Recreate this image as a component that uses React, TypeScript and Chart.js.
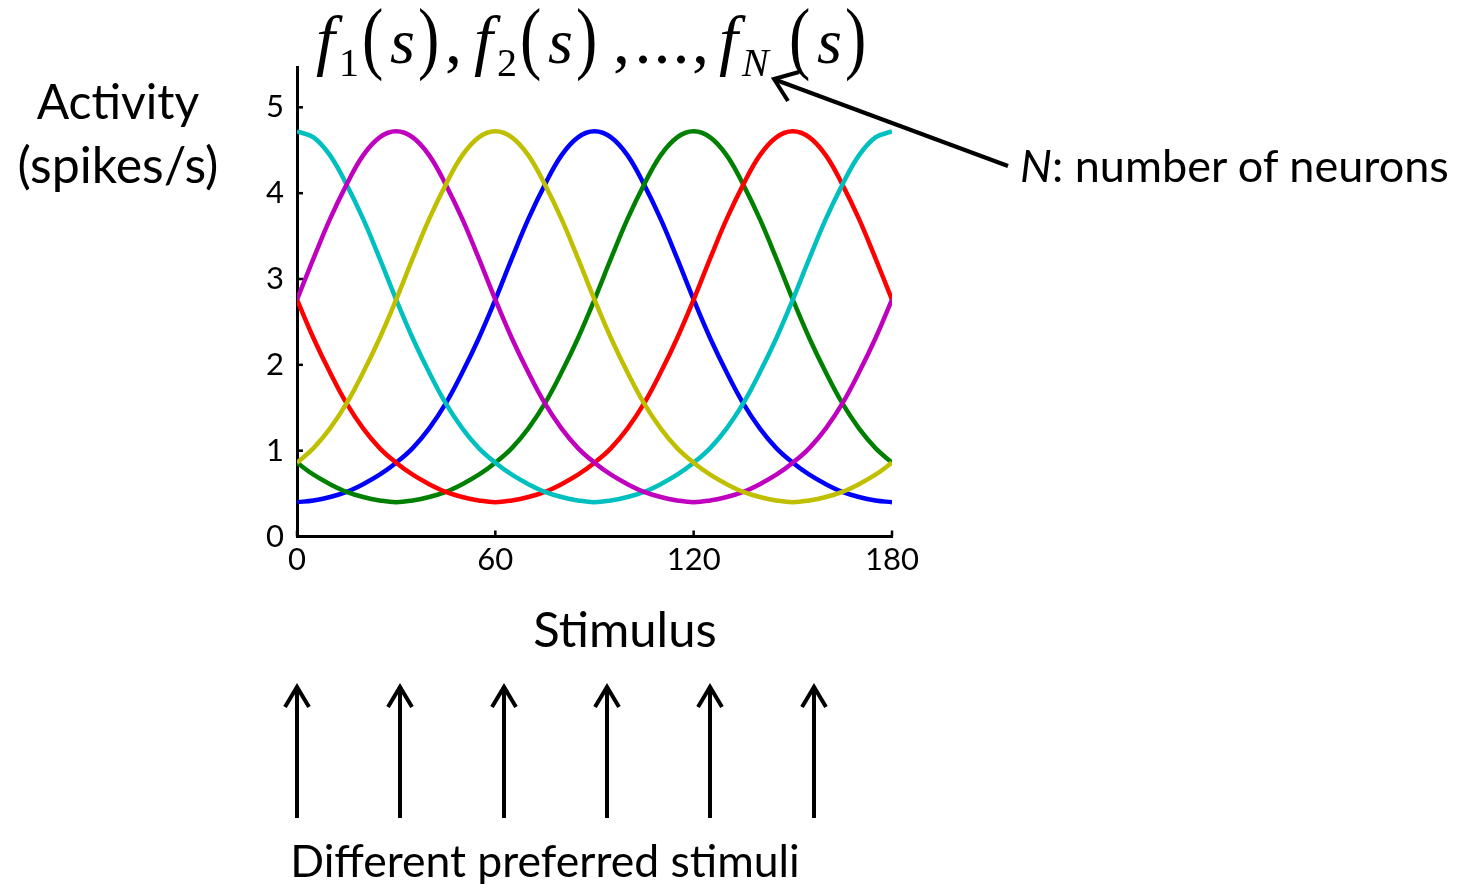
import React, { useEffect, useRef } from "react";
import { Chart, registerables } from "chart.js";

Chart.register(...registerables);

// Stimulus values (degrees) at which each tuning curve is sampled
const stimulus = [
  0, 5, 10, 15, 20, 25, 30, 35, 40, 45, 50, 55, 60, 65, 70, 75, 80, 85, 90,
  95, 100, 105, 110, 115, 120, 125, 130, 135, 140, 145, 150, 155, 160, 165,
  170, 175, 180,
];

// Firing rates (spikes/s) of six neurons, named by preferred stimulus
const pref0 = [
  4.72, 4.65, 4.44, 4.1, 3.7, 3.24, 2.76, 2.31, 1.91, 1.55, 1.26, 1.03, 0.86,
  0.72, 0.61, 0.52, 0.46, 0.42, 0.4, 0.42, 0.46, 0.52, 0.61, 0.72, 0.86, 1.03,
  1.26, 1.55, 1.91, 2.31, 2.76, 3.24, 3.7, 4.1, 4.44, 4.65, 4.72,
];
const pref30 = [
  2.76, 3.24, 3.7, 4.1, 4.44, 4.65, 4.72, 4.65, 4.44, 4.1, 3.7, 3.24, 2.76,
  2.31, 1.91, 1.55, 1.26, 1.03, 0.86, 0.72, 0.61, 0.52, 0.46, 0.42, 0.4, 0.42,
  0.46, 0.52, 0.61, 0.72, 0.86, 1.03, 1.26, 1.55, 1.91, 2.31, 2.76,
];
const pref60 = [
  0.86, 1.03, 1.26, 1.55, 1.91, 2.31, 2.76, 3.24, 3.7, 4.1, 4.44, 4.65, 4.72,
  4.65, 4.44, 4.1, 3.7, 3.24, 2.76, 2.31, 1.91, 1.55, 1.26, 1.03, 0.86, 0.72,
  0.61, 0.52, 0.46, 0.42, 0.4, 0.42, 0.46, 0.52, 0.61, 0.72, 0.86,
];
const pref90 = [
  0.4, 0.42, 0.46, 0.52, 0.61, 0.72, 0.86, 1.03, 1.26, 1.55, 1.91, 2.31, 2.76,
  3.24, 3.7, 4.1, 4.44, 4.65, 4.72, 4.65, 4.44, 4.1, 3.7, 3.24, 2.76, 2.31,
  1.91, 1.55, 1.26, 1.03, 0.86, 0.72, 0.61, 0.52, 0.46, 0.42, 0.4,
];
const pref120 = [
  0.86, 0.72, 0.61, 0.52, 0.46, 0.42, 0.4, 0.42, 0.46, 0.52, 0.61, 0.72, 0.86,
  1.03, 1.26, 1.55, 1.91, 2.31, 2.76, 3.24, 3.7, 4.1, 4.44, 4.65, 4.72, 4.65,
  4.44, 4.1, 3.7, 3.24, 2.76, 2.31, 1.91, 1.55, 1.26, 1.03, 0.86,
];
const pref150 = [
  2.76, 2.31, 1.91, 1.55, 1.26, 1.03, 0.86, 0.72, 0.61, 0.52, 0.46, 0.42, 0.4,
  0.42, 0.46, 0.52, 0.61, 0.72, 0.86, 1.03, 1.26, 1.55, 1.91, 2.31, 2.76, 3.24,
  3.7, 4.1, 4.44, 4.65, 4.72, 4.65, 4.44, 4.1, 3.7, 3.24, 2.76,
];

const xTickValues = [0, 60, 120, 180];
const yTickValues = [0, 1, 2, 3, 4, 5];

// Page and plot geometry (pixels)
const W = 1474;
const H = 884;
const PLOT_LEFT = 297;
const PLOT_RIGHT = 892;
const PLOT_TOP = 67;
const PLOT_BOTTOM = 536.5;
const Y_MAX = 5.47;

const SANS = "Lato, 'Open Sans', sans-serif";
const SERIF = "'Liberation Serif', 'Times New Roman', Times, serif";

const toPoints = (ys: number[]) => stimulus.map((x, i) => ({ x, y: ys[i] }));

// Short tick marks pointing into the plot area
const innerTicks = {
  id: "innerTicks",
  beforeDatasetsDraw(chart: any) {
    const { ctx, chartArea, scales } = chart;
    const x = scales.x;
    const y = scales.y;
    ctx.save();
    ctx.strokeStyle = "#000";
    ctx.lineWidth = 2.5;
    y.ticks.forEach((t: any) => {
      const py = y.getPixelForValue(t.value);
      ctx.beginPath();
      ctx.moveTo(chartArea.left, py);
      ctx.lineTo(chartArea.left + 6, py);
      ctx.stroke();
    });
    x.ticks.forEach((t: any) => {
      const px = x.getPixelForValue(t.value);
      ctx.beginPath();
      ctx.moveTo(px, chartArea.bottom);
      ctx.lineTo(px, chartArea.bottom - 6);
      ctx.stroke();
    });
    ctx.restore();
  },
};

function TuningChart() {
  const ref = useRef<HTMLCanvasElement | null>(null);

  useEffect(() => {
    if (!ref.current) return;
    const series = [
      { data: pref60, color: "#BFBF00", order: 0 },
      { data: pref30, color: "#BF00BF", order: 1 },
      { data: pref0, color: "#00BFBF", order: 2 },
      { data: pref150, color: "#FF0000", order: 3 },
      { data: pref120, color: "#008000", order: 4 },
      { data: pref90, color: "#0000FF", order: 5 },
    ];
    const tickFont = { family: SANS, size: 31 };
    const chart = new Chart(ref.current, {
      type: "line",
      data: {
        datasets: series.map((s) => ({
          data: toPoints(s.data),
          borderColor: s.color,
          backgroundColor: s.color,
          borderWidth: 4.5,
          pointRadius: 0,
          tension: 0.4,
          fill: false,
          order: s.order,
        })),
      },
      options: {
        responsive: false,
        animation: false,
        events: [],
        layout: {
          padding: { left: 0, right: W - PLOT_RIGHT, top: PLOT_TOP, bottom: 0 },
        },
        plugins: {
          legend: { display: false },
          tooltip: { enabled: false },
          title: { display: false },
        },
        scales: {
          x: {
            type: "linear",
            min: 0,
            max: 180,
            afterBuildTicks: (s: any) => {
              s.ticks = xTickValues.map((value) => ({ value }));
            },
            afterFit: (s: any) => {
              s.height = H - PLOT_BOTTOM;
            },
            grid: { display: false, drawTicks: false },
            border: { display: true, color: "#000", width: 3 },
            ticks: {
              font: tickFont,
              color: "#000",
              padding: 5,
              maxRotation: 0,
              autoSkip: false,
            },
          },
          y: {
            type: "linear",
            min: 0,
            max: Y_MAX,
            afterBuildTicks: (s: any) => {
              s.ticks = yTickValues.map((value) => ({ value }));
            },
            afterFit: (s: any) => {
              s.width = PLOT_LEFT;
            },
            grid: { display: false, drawTicks: false },
            border: { display: true, color: "#000", width: 3 },
            ticks: {
              font: tickFont,
              color: "#000",
              padding: 13,
              autoSkip: false,
            },
          },
        },
      },
      plugins: [innerTicks],
    });
    return () => chart.destroy();
  }, []);

  return (
    <canvas
      ref={ref}
      width={W}
      height={H}
      style={{ position: "absolute", left: 0, top: 0, width: W, height: H }}
    />
  );
}

function Label(props: {
  x: number;
  y: number;
  size: number;
  anchor?: "center" | "left";
  children: React.ReactNode;
}) {
  const { x, y, size, anchor = "center", children } = props;
  return (
    <div
      style={{
        position: "absolute",
        left: x,
        top: y,
        transform: anchor === "center" ? "translate(-50%, -50%)" : "translate(0, -50%)",
        fontFamily: SANS,
        fontSize: size,
        lineHeight: 1,
        whiteSpace: "nowrap",
        color: "#000",
      }}
    >
      {children}
    </div>
  );
}

// One "f_k(s)" term of the heading; x is where the f starts
function Term(props: { x: number; sub: string; italicSub?: boolean }) {
  const { x, sub, italicSub } = props;
  const base = 63;
  const shift = italicSub ? 24 : 0;
  return (
    <g>
      <text x={x + 4} y={base} fontSize={68} fontStyle="italic">
        f
      </text>
      <text
        x={x + 27}
        y={base + 13}
        fontSize={40}
        fontStyle={italicSub ? "italic" : "normal"}
      >
        {sub}
      </text>
      <text
        x={0}
        y={0}
        fontSize={80}
        transform={`translate(${x + 50 + shift} ${base + 1}) scale(0.8 1)`}
      >
        (
      </text>
      <text x={x + 78 + shift} y={base} fontSize={64} fontStyle="italic">
        s
      </text>
      <text
        x={0}
        y={0}
        fontSize={80}
        transform={`translate(${x + 106 + shift} ${base + 1}) scale(0.8 1)`}
      >
        )
      </text>
    </g>
  );
}

function Heading() {
  return (
    <g fontFamily={SERIF} fill="#000">
      <Term x={312} sub="1" />
      <text x={445} y={63} fontSize={68}>,</text>
      <Term x={470} sub="2" />
      <text x={613} y={63} fontSize={68}>,</text>
      {[643, 662, 681].map((cx) => (
        <text key={cx} x={cx} y={63} fontSize={68} textAnchor="middle">
          .
        </text>
      ))}
      <text x={692} y={63} fontSize={68}>,</text>
      <Term x={715} sub="N" italicSub />
    </g>
  );
}

function Annotations() {
  const stroke = { stroke: "#000", strokeWidth: 4, fill: "none" };
  const arrowXs = [297, 400, 504, 607, 710, 814];
  return (
    <svg
      width={W}
      height={H}
      style={{ position: "absolute", left: 0, top: 0 }}
    >
      <Heading />
      {/* pointer from the N label up to the last subscript */}
      <line x1={1008} y1={166} x2={776} y2={80} {...stroke} />
      <polyline
        points="799,72 774,79 788,101"
        {...stroke}
        strokeLinejoin="miter"
      />
      {/* arrows marking preferred stimuli */}
      {arrowXs.map((x) => (
        <g key={x}>
          <line x1={x} y1={818} x2={x} y2={688} {...stroke} />
          <polyline
            points={`${x - 12},${707} ${x},${687} ${x + 12},${707}`}
            {...stroke}
            strokeLinejoin="miter"
          />
        </g>
      ))}
    </svg>
  );
}

export default function App() {
  return (
    <div
      style={{
        position: "absolute",
        left: 0,
        top: 0,
        width: W,
        height: H,
        background: "#fff",
        overflow: "hidden",
      }}
    >
      <TuningChart />
      <Annotations />
      <Label x={118} y={101} size={48}>
        Activity
      </Label>
      <Label x={118} y={164} size={50}>
        (spikes/s)
      </Label>
      <Label x={625} y={628} size={49}>
        Stimulus
      </Label>
      <Label x={1020} y={165} size={45} anchor="left">
        <i>N</i>: number of neurons
      </Label>
      <Label x={545} y={860} size={44.5}>
        Different preferred stimuli
      </Label>
    </div>
  );
}
